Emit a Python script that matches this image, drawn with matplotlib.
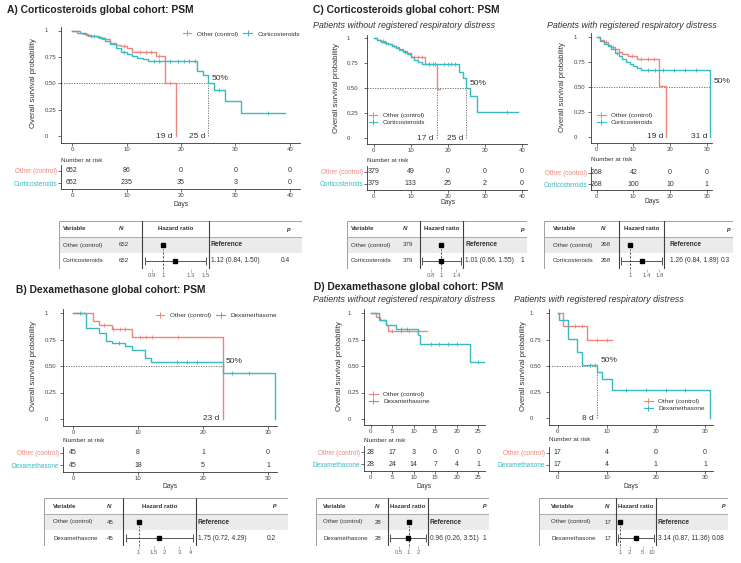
import numpy as np
import matplotlib
matplotlib.use("Agg")
import matplotlib.pyplot as plt
from matplotlib.lines import Line2D
from matplotlib.patches import Rectangle
from matplotlib.ticker import FixedLocator, FixedFormatter, NullLocator
from matplotlib.transforms import blended_transform_factory

plt.rcParams['font.family'] = ['Liberation Sans', 'DejaVu Sans']

W, H = 741, 563
fig = plt.figure(figsize=(W / 100, H / 100), dpi=100)

RED = '#EC857C'
CYAN = '#35BBC0'
TXT = '#333333'
PT = 0.72

TITLE, SUB, TICK, YLAB, LEG = 7.4, 6.4, 4.3, 5.5, 4.6
RLAB, RNUM, NAR, DAYS, MED = 4.7, 5.0, 4.6, 4.8, 6.0
FTXT, FEST = 4.4, 4.8

# ---------------- data ----------------
# A) Corticosteroids global cohort
A_labels = ['Other (control)', 'Corticosteroids']
A_ctrl_t = [0, 1, 2, 3, 4.5, 5.5, 7, 8, 9, 10, 11, 15.5, 17, 19]
A_ctrl_s = [1, 0.98, 0.965, 0.95, 0.935, 0.92, 0.88, 0.86, 0.85, 0.83, 0.80, 0.76, 0.50, 0.0]
A_ctrl_end = 19
A_ctrl_cens = [3.5, 6, 9.5, 12.5, 13.5, 14.5, 16, 18]
A_trt_t = [0, 1.5, 2.5, 3.5, 5, 6, 7, 8, 9, 10, 11, 12, 13, 14, 23, 24, 25, 26, 28, 31]
A_trt_s = [1, 0.98, 0.96, 0.945, 0.925, 0.90, 0.875, 0.83, 0.80, 0.78, 0.76, 0.74, 0.73, 0.71,
           0.62, 0.58, 0.50, 0.44, 0.33, 0.22]
A_trt_end = 39
A_trt_cens = [4, 9.5, 15, 16, 18, 19.5, 20.5, 21.5, 22.5, 27, 36]
A_medians = [19, 25]
A_risk_times = [0, 10, 20, 30, 40]
A_risk_ctrl = [652, 86, 0, 0, 0]
A_risk_trt = [652, 235, 35, 3, 0]
A_N = [652, 652]
A_hr = [1.12, 0.84, 1.50]
A_p = '0.4'
A_hr_ticks = [0.9, 1, 1.3, 1.5]

# B) Dexamethasone global cohort
B_labels = ['Other (control)', 'Dexamethasone']
B_ctrl_t = [0, 3, 4, 6, 9, 23]
B_ctrl_s = [1, 0.92, 0.89, 0.85, 0.77, 0.0]
B_ctrl_end = 23
B_ctrl_cens = [4.8, 6.2, 7.2, 8.0, 10.3, 11.2, 12.1, 16.2]
B_trt_t = [0, 2, 4, 5, 6, 8, 9, 11, 12, 23, 31]
B_trt_s = [1, 0.86, 0.81, 0.74, 0.72, 0.69, 0.65, 0.58, 0.54, 0.43, 0.0]
B_trt_end = 31
B_trt_cens = [1, 7, 16, 17.5, 19, 24.5, 27]
B_medians = [23]
B_risk_times = [0, 10, 20, 30]
B_risk_ctrl = [45, 8, 1, 0]
B_risk_trt = [45, 18, 5, 1]
B_N = [45, 45]
B_hr = [1.75, 0.72, 4.29]
B_p = '0.2'
B_hr_ticks = [1, 1.5, 2, 3, 4]

# C) Corticosteroids, without respiratory distress
CL_ctrl_t = [0, 1, 2, 3, 4, 5, 6, 7, 8, 9, 10, 14, 17]
CL_ctrl_s = [1, 0.98, 0.97, 0.95, 0.94, 0.92, 0.91, 0.89, 0.87, 0.85, 0.81, 0.74, 0.49]
CL_ctrl_end = 18
CL_ctrl_cens = [2.5, 5.5, 11, 12, 13, 15, 16]
CL_trt_t = [0, 1, 2, 3, 4, 5, 6, 7, 8, 9, 10, 11, 12, 13, 23, 24, 25, 26, 28]
CL_trt_s = [1, 0.98, 0.965, 0.95, 0.94, 0.92, 0.90, 0.88, 0.86, 0.84, 0.81, 0.78, 0.76, 0.74,
            0.66, 0.60, 0.50, 0.42, 0.26]
CL_trt_end = 39
CL_trt_cens = [3.5, 8.5, 15, 16.5, 19, 20, 21, 22, 36]
CL_medians = [17, 25]
CL_risk_times = [0, 10, 20, 30, 40]
CL_risk_ctrl = [379, 49, 0, 0, 0]
CL_risk_trt = [379, 133, 25, 2, 0]
CL_N = [379, 379]
CL_hr = [1.01, 0.66, 1.55]
CL_p = '1'
CL_hr_ticks = [0.8, 1, 1.4]

# C) Corticosteroids, with respiratory distress
CR_ctrl_t = [0, 1, 2, 3, 4, 5, 6, 7, 8.5, 11, 17, 19]
CR_ctrl_s = [1, 0.97, 0.95, 0.92, 0.90, 0.88, 0.85, 0.83, 0.81, 0.78, 0.51, 0.0]
CR_ctrl_end = 19
CR_ctrl_cens = [2.5, 4.5, 9.5, 12, 14, 15.5]
CR_trt_t = [0, 1, 2, 3, 4, 5, 6, 7, 8, 9, 10, 11, 12, 31]
CR_trt_s = [1, 0.96, 0.93, 0.91, 0.88, 0.84, 0.81, 0.78, 0.75, 0.73, 0.71, 0.69, 0.67, 0.0]
CR_trt_end = 31
CR_trt_cens = [5.5, 14, 16, 18, 21, 24, 27]
CR_medians = [19, 31]
CR_risk_times = [0, 10, 20, 30]
CR_risk_ctrl = [268, 42, 0, 0]
CR_risk_trt = [268, 100, 10, 1]
CR_N = [268, 268]
CR_hr = [1.26, 0.84, 1.89]
CR_p = '0.3'
CR_hr_ticks = [1, 1.4, 1.8]

# D) Dexamethasone, without respiratory distress
DL_ctrl_t = [0, 1.2, 2.3, 3.5, 4.0]
DL_ctrl_s = [1, 0.96, 0.93, 0.89, 0.83]
DL_ctrl_end = 13
DL_ctrl_cens = [5, 7, 9, 11]
DL_trt_t = [0, 2, 3.7, 5.8, 11, 11.5, 23]
DL_trt_s = [1, 0.93, 0.89, 0.85, 0.79, 0.71, 0.54]
DL_trt_end = 26.5
DL_trt_cens = [7, 8.5, 14, 16, 18, 20, 25]
DL_medians = []
DL_risk_times = [0, 5, 10, 15, 20, 25]
DL_risk_ctrl = [28, 17, 3, 0, 0, 0]
DL_risk_trt = [28, 24, 14, 7, 4, 1]
DL_N = [28, 28]
DL_hr = [0.96, 0.26, 3.51]
DL_p = '1'
DL_hr_ticks = [0.5, 1, 2]

# D) Dexamethasone, with respiratory distress
DR_ctrl_t = [0, 1, 6]
DR_ctrl_s = [1, 0.88, 0.75]
DR_ctrl_end = 11
DR_ctrl_cens = [3.5, 5, 8, 10]
DR_trt_t = [0, 0.2, 2, 4, 5, 8, 9, 11, 31]
DR_trt_s = [1, 0.94, 0.76, 0.63, 0.51, 0.44, 0.37, 0.27, 0.0]
DR_trt_end = 31
DR_trt_cens = [6.5, 7.5, 14, 18, 22, 26]
DR_medians = [8]
DR_risk_times = [0, 10, 20, 30]
DR_risk_ctrl = [17, 4, 0, 0]
DR_risk_trt = [17, 4, 1, 1]
DR_N = [17, 17]
DR_hr = [3.14, 0.87, 11.36]
DR_p = '0.08'
DR_hr_ticks = [1, 2, 5, 10]

SUB_WITHOUT = 'Patients without registered respiratory distress'
SUB_WITH = 'Patients with registered respiratory distress'


# ---------------- helpers ----------------
def pax(x0, y0, x1, y1):
    return fig.add_axes([x0 / W, 1 - y1 / H, (x1 - x0) / W, (y1 - y0) / H])


def ftext(x, y, s, **kw):
    kw.setdefault('color', TXT)
    return fig.text(x / W, 1 - y / H, s, **kw)


def lims(box, xmap, ymap):
    x0, y0, x1, y1 = box
    (px0, d0), (px1, d1) = xmap
    sx = (px1 - px0) / (d1 - d0)
    xl = (d0 + (x0 - px0) / sx, d0 + (x1 - px0) / sx)
    (py0, v0), (py1, v1) = ymap
    sy = (py1 - py0) / (v1 - v0)
    yl = (v0 + (y1 - py0) / sy, v0 + (y0 - py0) / sy)
    return xl, yl


def step_curve(ax, t, s, end, cens, color):
    tt = list(t) + [end]
    ss = list(s) + [s[-1]]
    ax.step(tt, ss, where='post', color=color, lw=1.0, solid_joinstyle='miter')
    idx = np.searchsorted(np.array(t), np.array(cens), side='right') - 1
    cs = np.array(s)[idx]
    ax.plot(cens, cs, ls='none', marker='+', ms=3.2, mew=0.6, color=color)


def style_axis(ax):
    for sp in ('top', 'right'):
        ax.spines[sp].set_visible(False)
    for sp in ('left', 'bottom'):
        ax.spines[sp].set_color('#333333')
        ax.spines[sp].set_linewidth(0.6)
    ax.tick_params(length=2, width=0.5, color='#333333', labelsize=TICK,
                   labelcolor='#444444', pad=1)


def km_panel(box, xmap, ymap, xticks, curves, labels, medians, leg_xy, leg_ncol,
             ylab_x, ytick_left):
    ax = pax(*box)
    xl, yl = lims(box, xmap, ymap)
    ax.set_xlim(xl)
    ax.set_ylim(yl)
    ax.patch.set_alpha(0)
    if medians:
        mmax = max(medians)
        ax.plot([xl[0], mmax], [0.5, 0.5], ls=(0, (1.5, 1.5)), color='#666666', lw=0.6)
        for m in medians:
            ax.plot([m, m], [0, 0.5], ls=(0, (1.5, 1.5)), color='#666666', lw=0.6)
            ax.annotate('%g d' % m, xy=(m, 0), xytext=(-2, 0), textcoords='offset points',
                        ha='right', va='center', fontsize=MED, color=TXT)
        ax.annotate('50%', xy=(mmax, 0.5), xytext=(2.4, 3.5), textcoords='offset points',
                    ha='left', va='center', fontsize=MED, color=TXT, annotation_clip=False)
    for (t, s, end, cens, color) in curves:
        step_curve(ax, t, s, end, cens, color)
    style_axis(ax)
    ax.set_xticks(xticks)
    ax.set_xticklabels(['%g' % v for v in xticks])
    ax.set_yticks([0, 0.25, 0.5, 0.75, 1])
    ax.set_yticklabels(['0', '0.25', '0.50', '0.75', '1'])
    ax.tick_params(axis='y', pad=(box[0] - ytick_left) * PT - 2)
    for lab in ax.get_yticklabels():
        lab.set_horizontalalignment('left')
    yc = (ymap[0][0] + ymap[1][0]) / 2
    ftext(ylab_x, yc, 'Overall survival probability', rotation=90, ha='center', va='center',
          fontsize=YLAB)
    handles = [Line2D([], [], color=c[4], marker='+', ms=4, mew=0.7, lw=0.8) for c in curves]
    ax.legend(handles, labels, loc='center left', ncol=leg_ncol,
              bbox_to_anchor=(leg_xy[0] / W, 1 - leg_xy[1] / H), bbox_transform=fig.transFigure,
              frameon=False, fontsize=LEG, handlelength=1.4, handletextpad=0.8,
              columnspacing=0.9, labelspacing=0.25, borderpad=0, borderaxespad=0,
              labelcolor=TXT)
    return ax, xl


def risk_panel(box, xl, times, rows, labels, nar_y, days_y):
    ax = pax(*box)
    ax.set_xlim(xl)
    ax.set_ylim(0, 2)
    ax.patch.set_alpha(0)
    for i, vals in enumerate(rows):
        y = 1.5 - i
        for t, v in zip(times, vals):
            ax.text(t, y, str(v), ha='center', va='center', fontsize=RNUM, color=TXT)
    style_axis(ax)
    ax.set_yticks([1.5, 0.5])
    ax.set_yticklabels(labels)
    for lab, col in zip(ax.get_yticklabels(), (RED, CYAN)):
        lab.set_color(col)
        lab.set_fontsize(RLAB)
    ax.set_xticks(times)
    ax.set_xticklabels(['%g' % v for v in times])
    ftext(box[0], nar_y, 'Number at risk', ha='left', va='center', fontsize=NAR)
    tr = blended_transform_factory(ax.transData, fig.transFigure)
    ax.text((times[0] + times[-1]) / 2, 1 - days_y / H, 'Days', transform=tr,
            ha='center', va='center', fontsize=DAYS, color=TXT)
    return ax


def forest(geo, labels, Ns, hrv, p, ticks):
    x0, x1, sep1, sep2, var_x, n_x, est_x, p_x, T = geo
    hr, lo, hi = hrv
    tab = pax(x0, T, x1, T + 48)
    tab.set_xlim(x0, x1)
    tab.set_ylim(T + 48, T)
    tab.axis('off')
    tab.add_patch(Rectangle((x0, T + 16), x1 - x0, 16, fc='#EBEBEB', ec='none'))
    tab.add_patch(Rectangle((x0, T), x1 - x0, 48, fc='none', ec='#A0A0A0', lw=0.7))
    tab.plot([x0, x1], [T + 16, T + 16], color='#A0A0A0', lw=0.6)
    for s in (sep1, sep2):
        tab.plot([s, s], [T, T + 48], color='#404040', lw=0.8)
    tab.text(var_x, T + 8, 'Variable', fontsize=FTXT, fontweight='bold', va='center', color=TXT)
    tab.text(n_x, T + 8, 'N', fontsize=FTXT, fontweight='bold', style='italic', va='center', color=TXT)
    tab.text((sep1 + sep2) / 2, T + 8, 'Hazard ratio', fontsize=FTXT, fontweight='bold',
             ha='center', va='center', color=TXT)
    tab.text(p_x, T + 8, 'p', fontsize=FTXT, fontweight='bold', style='italic', ha='right',
             va='center', color=TXT)
    for i in range(2):
        yc = T + 24 + 16 * i
        tab.text(var_x, yc, labels[i], fontsize=FTXT, va='center', color=TXT)
        tab.text(n_x, yc, str(Ns[i]), fontsize=FTXT, va='center', color=TXT)
    tab.text(est_x, T + 24, 'Reference', fontsize=FEST, fontweight='bold', va='center', color=TXT)
    tab.text(est_x, T + 40, '%.2f (%.2f, %.2f)' % (hr, lo, hi), fontsize=FEST, va='center', color=TXT)
    tab.text(p_x, T + 40, p, fontsize=FEST, ha='right', va='center', color=TXT)

    hx = pax(sep1, T + 16, sep2, T + 48)
    hx.set_xscale('log')
    lr = np.log(hi) - np.log(lo)
    hx.set_xlim(np.exp(np.log(lo) - 0.05 * lr), np.exp(np.log(hi) + 0.05 * lr))
    hx.set_ylim(0, 2)
    hx.patch.set_alpha(0)
    for sp in hx.spines.values():
        sp.set_visible(False)
    hx.plot([1, 1], [0, 1.25], ls=(0, (2.5, 2)), color='#333333', lw=0.6)
    hx.plot([1], [1.5], marker='s', ms=2.8, color='black', ls='none')
    hx.errorbar([hr], [0.5], xerr=[[hr - lo], [hi - hr]], fmt='s', ms=2.8, color='black',
                ecolor='#555555', elinewidth=0.7, capsize=3.2, capthick=0.7)
    hx.xaxis.set_major_locator(FixedLocator(ticks))
    hx.xaxis.set_major_formatter(FixedFormatter(['%g' % v for v in ticks]))
    hx.xaxis.set_minor_locator(NullLocator())
    hx.set_yticks([])
    hx.tick_params(axis='x', length=2, width=0.4, color='#888888', labelsize=TICK,
                   labelcolor='#666666', pad=1)


# ---------------- titles ----------------
ftext(7, 10, 'A) Corticosteroids global cohort: PSM', fontsize=TITLE, fontweight='bold',
      va='center', color='#222222')
ftext(16, 290, 'B) Dexamethasone global cohort: PSM', fontsize=TITLE, fontweight='bold',
      va='center', color='#222222')
ftext(313, 10, 'C) Corticosteroids global cohort: PSM', fontsize=TITLE, fontweight='bold',
      va='center', color='#222222')
ftext(314, 287, 'D) Dexamethasone global cohort: PSM', fontsize=TITLE, fontweight='bold',
      va='center', color='#222222')
ftext(313, 25, SUB_WITHOUT, fontsize=SUB, style='italic', va='center')
ftext(547, 25, SUB_WITH, fontsize=SUB, style='italic', va='center')
ftext(313, 299, SUB_WITHOUT, fontsize=SUB, style='italic', va='center')
ftext(514, 299, SUB_WITH, fontsize=SUB, style='italic', va='center')

# ---------------- panel A ----------------
boxA = (61, 27, 300, 143)
axA, xlA = km_panel(boxA, ((72, 0), (290, 40)), ((136, 0), (30.5, 1)), A_risk_times,
                    [(A_ctrl_t, A_ctrl_s, A_ctrl_end, A_ctrl_cens, RED),
                     (A_trt_t, A_trt_s, A_trt_end, A_trt_cens, CYAN)],
                    A_labels, A_medians, (182.5, 34), 2, 33.3, 45)
risk_panel((61, 165, 300, 189), xlA, A_risk_times, [A_risk_ctrl, A_risk_trt], A_labels, 160, 204)
forest((59, 302, 142, 209, 63, 119, 211, 290, 221), A_labels, A_N, A_hr, A_p, A_hr_ticks)

# ---------------- panel B ----------------
boxB = (63, 309, 277, 426)
axB, xlB = km_panel(boxB, ((73, 0), (268, 30)), ((419, 0), (313, 1)), B_risk_times,
                    [(B_ctrl_t, B_ctrl_s, B_ctrl_end, B_ctrl_cens, RED),
                     (B_trt_t, B_trt_s, B_trt_end, B_trt_cens, CYAN)],
                    B_labels, B_medians, (155.5, 315), 2, 33.3, 45)
risk_panel((63, 446.5, 277, 471.5), xlB, B_risk_times, [B_risk_ctrl, B_risk_trt], B_labels, 440, 487)
forest((44, 288, 123, 196, 53, 107, 198, 276, 498), B_labels, B_N, B_hr, B_p, B_hr_ticks)

# ---------------- panel C left ----------------
boxCL = (367, 35, 527, 144)
axCL, xlCL = km_panel(boxCL, ((373.5, 0), (522, 40)), ((138, 0), (38, 1)), CL_risk_times,
                      [(CL_ctrl_t, CL_ctrl_s, CL_ctrl_end, CL_ctrl_cens, RED),
                       (CL_trt_t, CL_trt_s, CL_trt_end, CL_trt_cens, CYAN)],
                      A_labels, CL_medians, (368.5, 118.7), 1, 336.7, 347)
risk_panel((367, 166, 527, 190), xlCL, CL_risk_times, [CL_risk_ctrl, CL_risk_trt], A_labels, 160, 203)
forest((347, 527, 420, 463, 351, 403, 465, 524, 221), A_labels, CL_N, CL_hr, CL_p, CL_hr_ticks)

# ---------------- panel C right ----------------
boxCR = (591, 33, 712, 143)
axCR, xlCR = km_panel(boxCR, ((596.7, 0), (706.7, 30)), ((136.7, 0), (36.7, 1)), CR_risk_times,
                      [(CR_ctrl_t, CR_ctrl_s, CR_ctrl_end, CR_ctrl_cens, RED),
                       (CR_trt_t, CR_trt_s, CR_trt_end, CR_trt_cens, CYAN)],
                      A_labels, CR_medians, (597, 119), 1, 562.7, 574)
risk_panel((591, 167, 712, 190), xlCR, CR_risk_times, [CR_risk_ctrl, CR_risk_trt], A_labels, 159.3, 202)
forest((544, 733, 619, 664, 553, 601, 670, 730, 221), A_labels, CR_N, CR_hr, CR_p, CR_hr_ticks)

# ---------------- panel D left ----------------
boxDL = (364, 309, 485, 425)
axDL, xlDL = km_panel(boxDL, ((370.5, 0), (478.3, 25)), ((419, 0), (313, 1)), DL_risk_times,
                      [(DL_ctrl_t, DL_ctrl_s, DL_ctrl_end, DL_ctrl_cens, RED),
                       (DL_trt_t, DL_trt_s, DL_trt_end, DL_trt_cens, CYAN)],
                      B_labels, DL_medians, (369, 397.7), 1, 339.3, 347.7)
risk_panel((364, 446, 485, 470.5), xlDL, DL_risk_times, [DL_risk_ctrl, DL_risk_trt], B_labels, 440, 486)
forest((316, 489, 388, 428, 323, 375, 430, 486, 498), B_labels, DL_N, DL_hr, DL_p, DL_hr_ticks)

# ---------------- panel D right ----------------
boxDR = (549, 309, 713, 425)
axDR, xlDR = km_panel(boxDR, ((557.7, 0), (705, 30)), ((418.3, 0), (313.3, 1)), DR_risk_times,
                      [(DR_ctrl_t, DR_ctrl_s, DR_ctrl_end, DR_ctrl_cens, RED),
                       (DR_trt_t, DR_trt_s, DR_trt_end, DR_trt_cens, CYAN)],
                      B_labels, DR_medians, (644, 404.7), 1, 523.3, 529.3)
risk_panel((549, 446.5, 713, 471), xlDR, DR_risk_times, [DR_risk_ctrl, DR_risk_trt], B_labels, 439.3, 486)
forest((539, 728, 616, 656, 551, 605, 658, 725, 498), B_labels, DR_N, DR_hr, DR_p, DR_hr_ticks)

fig.savefig('out.png', dpi=100)
